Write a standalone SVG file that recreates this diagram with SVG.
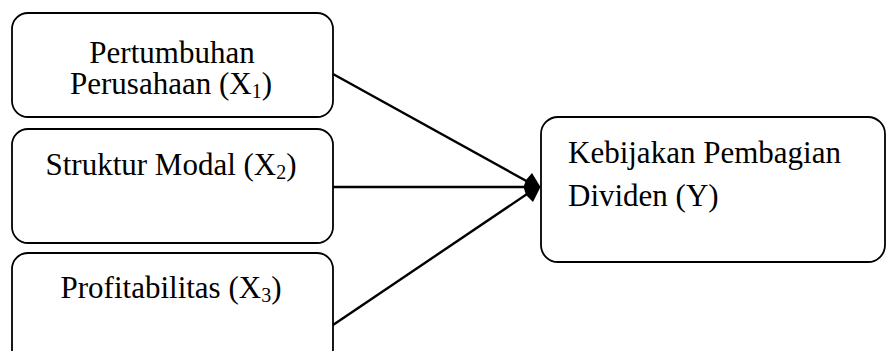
<svg xmlns="http://www.w3.org/2000/svg" width="887" height="351" viewBox="0 0 887 351">
<style>
.box{fill:#fff;stroke:#000;stroke-width:1.8}
.lbl{font-family:"Liberation Serif","Times New Roman",serif;font-size:31px;fill:#000}
.c{text-anchor:middle}
.sub{font-size:20px}
.conn{stroke:#000;stroke-width:2.4;fill:none}
.head{fill:#000;stroke:none}
</style>
<rect width="887" height="351" fill="#fff"/>
<g id="node-x1">
<rect class="box" x="12" y="13" width="321" height="104" rx="16"/>
<text class="lbl c" x="172" y="63">Pertumbuhan</text>
<text class="lbl c" x="171" y="94">Perusahaan (X<tspan class="sub" dy="4">1</tspan><tspan dy="-4">)</tspan></text>
</g>
<g id="node-x2">
<rect class="box" x="12" y="129" width="321" height="114" rx="16"/>
<text class="lbl c" x="171" y="175">Struktur Modal (X<tspan class="sub" dy="4">2</tspan><tspan dy="-4">)</tspan></text>
</g>
<g id="node-x3">
<rect class="box" x="12" y="253" width="321" height="112" rx="16"/>
<text class="lbl c" x="171" y="298">Profitabilitas (X<tspan class="sub" dy="4">3</tspan><tspan dy="-4">)</tspan></text>
</g>
<g id="node-y">
<rect class="box" x="541" y="117" width="344" height="145" rx="17"/>
<text class="lbl" x="568" y="163">Kebijakan Pembagian</text>
<text class="lbl" x="568" y="206">Dividen (Y)</text>
</g>
<g id="connectors">
<line class="conn" x1="333" y1="74" x2="530" y2="183"/>
<line class="conn" x1="333" y1="187" x2="530" y2="187"/>
<line class="conn" x1="333" y1="325" x2="530" y2="192"/>
<path class="head" d="M540.5,187 L532,173 L526,180 L523.5,187 L526,195 L533,202 Z"/>
</g>
</svg>
